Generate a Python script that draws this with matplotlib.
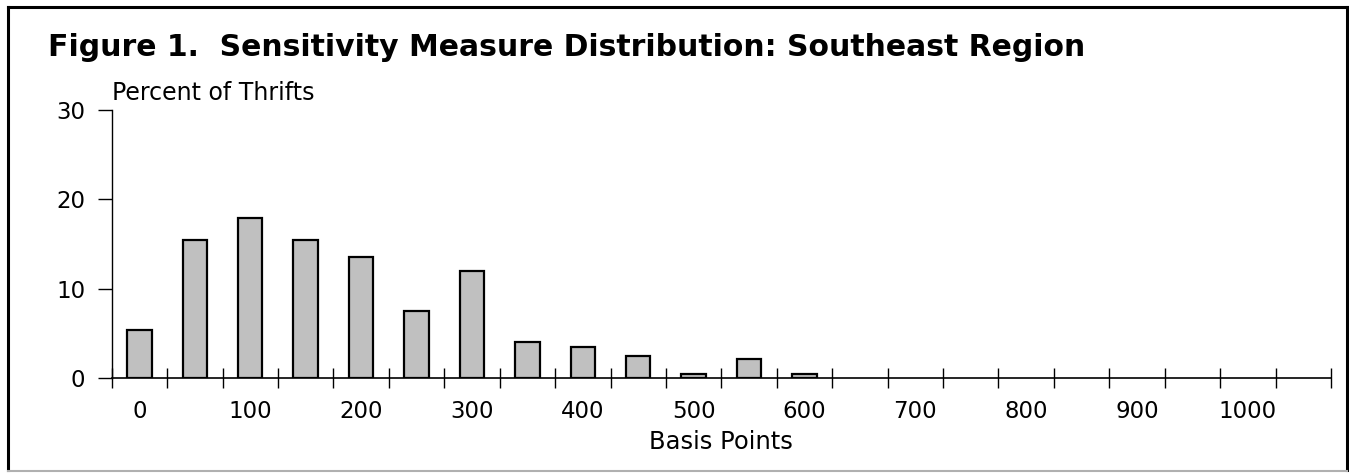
import matplotlib
matplotlib.use("Agg")
from matplotlib import pyplot as plt
from matplotlib import lines as ln

# the source text is a wide Arial look, DejaVu Sans is the widest face we have
plt.rcParams['font.family'] = ['DejaVu Sans']

# basis point buckets, 50 bp each; only the first 13 hold any thrifts
buckets = list(range(0, 1100, 50))
percents = [5.4, 15.4, 17.9, 15.4, 13.5, 7.5, 12.0, 4.0, 3.5, 2.5, 0.5, 2.1, 0.5,
            0, 0, 0, 0, 0, 0, 0, 0, 0]
shown_labels = ["0", "100", "200", "300", "400", "500", "600", "700", "800", "900", "1000"]

fig = plt.figure(figsize=(13.49, 4.73), dpi=100)
ax = fig.add_axes([111.7 / 1349, 1 - 378 / 473, (1331 - 111.7) / 1349, (378 - 110) / 473])

pos = range(len(buckets))
edge_w = [1.6 if p > 0 else 0 for p in percents]
ax.bar(pos, percents, width=0.44, color="#c0c0c0", edgecolor="black", linewidth=edge_w)

ax.set_xlim(-0.5, len(buckets) - 0.5)
ax.set_ylim(0, 30)
ax.set_yticks([0, 10, 20, 30])
ax.tick_params(axis="y", direction="out", length=10, width=1, labelsize=16.5, pad=9)

# tick marks sit between the buckets, labels only under every other bucket
ax.set_xticks([i - 0.5 for i in range(len(buckets) + 1)])
ax.set_xticklabels([])
ax.tick_params(axis="x", which="major", direction="inout", length=14, width=1)
ax.set_xticks(list(pos)[::2], minor=True)
ax.set_xticklabels(shown_labels, minor=True)
ax.tick_params(axis="x", which="minor", length=0, labelsize=16.5, pad=16)

for s in ["top", "right"]:
    ax.spines[s].set_visible(False)
ax.spines["left"].set_linewidth(1)
ax.spines["bottom"].set_linewidth(1.2)

ax.set_xlabel("Basis Points", fontsize=17.5, labelpad=5)

fig.text(48 / 1349, 1 - 56 / 473, "Figure 1.  Sensitivity Measure Distribution: Southeast Region",
         fontsize=21.5, fontweight="bold", ha="left", va="baseline")
fig.text(112 / 1349, 1 - 100 / 473, "Percent of Thrifts", fontsize=17, ha="left", va="baseline")

# outer frame: black on three sides, grey along the bottom
fig.add_artist(ln.Line2D([8 / 1349, 8 / 1349], [1 - 470 / 473, 1 - 7 / 473], color="black", linewidth=2.2))
fig.add_artist(ln.Line2D([8 / 1349, 1347 / 1349], [1 - 7 / 473, 1 - 7 / 473], color="black", linewidth=2.2))
fig.add_artist(ln.Line2D([1347 / 1349, 1347 / 1349], [1 - 470 / 473, 1 - 7 / 473], color="black", linewidth=2.2))
fig.add_artist(ln.Line2D([8 / 1349, 1347 / 1349], [1 - 470.5 / 473, 1 - 470.5 / 473], color="#b0b0b0", linewidth=1.5))

fig.savefig("out.png", dpi=100)
